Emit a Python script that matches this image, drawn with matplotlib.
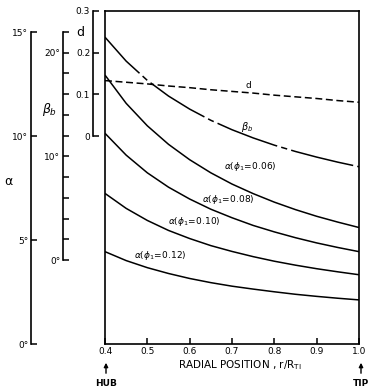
import matplotlib
matplotlib.use('Agg')
import matplotlib.pyplot as plt
from matplotlib.patches import FancyArrowPatch

plt.rcParams['lines.scale_dashes'] = False
plt.rcParams['mathtext.fontset'] = 'dejavusans'

# ---- data ----
r = [0.40, 0.45, 0.50, 0.55, 0.60, 0.65, 0.70, 0.75, 0.80, 0.85, 0.90, 0.95, 1.00]
alpha_006 = [12.93, 11.57, 10.49, 9.60, 8.86, 8.23, 7.69, 7.23, 6.82, 6.46, 6.14, 5.86, 5.60]
alpha_008 = [10.13, 9.08, 8.23, 7.54, 6.97, 6.48, 6.07, 5.70, 5.39, 5.11, 4.86, 4.64, 4.44]
alpha_010 = [7.24, 6.52, 5.94, 5.46, 5.07, 4.73, 4.45, 4.20, 3.98, 3.79, 3.62, 3.47, 3.33]
alpha_012 = [4.44, 4.01, 3.67, 3.39, 3.15, 2.95, 2.78, 2.64, 2.51, 2.39, 2.29, 2.20, 2.12]
beta_b = [21.5, 19.19, 17.33, 15.82, 14.56, 13.48, 12.57, 11.78, 11.08, 10.47, 9.93, 9.44, 9.0]
d_vals = [0.133, 0.129, 0.125, 0.120, 0.116, 0.111, 0.107, 0.103, 0.098, 0.094, 0.090, 0.085, 0.081]

x_ticks = [0.4, 0.5, 0.6, 0.7, 0.8, 0.9, 1.0]
x_ticklabels = ['0.4', '0.5', '0.6', '0.7', '0.8', '0.9', '1.0']
alpha_ticks = [0, 5, 10, 15]
alpha_ticklabels = ['0°', '5°', '10°', '15°']
beta_ticks = [0, 2, 4, 6, 8, 10, 12, 14, 16, 18, 20, 22]
beta_ticklabels = ['0°', '', '', '', '', '10°', '', '', '', '', '20°', '']
d_ticks = [0, 0.1, 0.2, 0.3]
d_ticklabels = ['0', '0.1', '0.2', '0.3']

W, H = 375, 392
fig = plt.figure(figsize=(W / 100, H / 100), dpi=100)
fig.patch.set_facecolor('white')

def fx(px):
    return px / W

def fy(py):
    return 1 - py / H

# main box (pixel layout)
L, R, T, B = 105, 359, 11, 344
main_rect = [fx(L), fy(B), (R - L) / W, (B - T) / H]

def ylim_for(v0, p0, v1, p1):
    k = (p0 - p1) / (v1 - v0)
    return (v0 - (B - p0) / k, v0 + (p0 - T) / k)

LW = 1.1
ax = fig.add_axes(main_rect)
ax.set_xlim(0.4, 1.0)
ax.set_ylim(*ylim_for(0, 344, 15, 32))
for s in ax.spines.values():
    s.set_linewidth(1.2)
ax.set_xticks(x_ticks)
ax.set_xticklabels(x_ticklabels)
ax.set_yticks([])
ax.tick_params(axis='x', direction='in', length=4, width=1.1, labelsize=6.5, pad=2)

for vals in (alpha_006, alpha_008, alpha_010, alpha_012):
    ax.plot(r, vals, color='black', lw=LW, solid_capstyle='butt')

axb = fig.add_axes(main_rect)
axb.axis('off')
axb.set_xlim(0.4, 1.0)
axb.set_ylim(*ylim_for(0, 260, 22, 32))
axb.plot(r, beta_b, color='black', lw=LW, linestyle=(10, (46, 3, 4.5, 3)))

axd = fig.add_axes(main_rect)
axd.axis('off')
axd.set_xlim(0.4, 1.0)
axd.set_ylim(*ylim_for(0, 136, 0.3, 11))
axd.plot(r, d_vals, color='black', lw=LW, linestyle=(0, (5, 2.6)))

def scale_axis(xpx, ptop, pbot, lo, hi, ticks, labels):
    a = fig.add_axes([fx(xpx), fy(pbot), 0.0001, (pbot - ptop) / H])
    a.set_ylim(lo, hi)
    for s in ['top', 'right', 'bottom']:
        a.spines[s].set_visible(False)
    a.spines['left'].set_linewidth(1.2)
    a.xaxis.set_visible(False)
    a.patch.set_visible(False)
    a.set_yticks(ticks)
    a.set_yticklabels(labels)
    a.tick_params(axis='y', direction='in', length=4, width=1.1, labelsize=6.5, pad=2)
    return a

scale_axis(31, 32, 344, 0, 15, alpha_ticks, alpha_ticklabels)
scale_axis(63, 32, 260, 0, 22, beta_ticks, beta_ticklabels)
scale_axis(93, 11, 136, 0, 0.3, d_ticks, d_ticklabels)

# axis titles
fig.text(fx(8), fy(181), 'α', fontsize=9, ha='center', va='center')
fig.text(fx(50), fy(110), r'$\beta_b$', fontsize=9, ha='center', va='center')
fig.text(fx(80), fy(33), 'd', fontsize=9, ha='center', va='center')

# curve labels
fs = 6.5
fig.text(fx(248), fy(86), 'd', fontsize=fs, ha='center', va='center')
fig.text(fx(247), fy(127), r'$\beta_b$', fontsize=fs + 0.5, ha='center', va='center')
fig.text(fx(250), fy(166), r'$\alpha(\phi_1\!=\!0.06)$', fontsize=fs, ha='center', va='center')
fig.text(fx(228), fy(200), r'$\alpha(\phi_1\!=\!0.08)$', fontsize=fs, ha='center', va='center')
fig.text(fx(194), fy(222), r'$\alpha(\phi_1\!=\!0.10)$', fontsize=fs, ha='center', va='center')
fig.text(fx(160), fy(256), r'$\alpha(\phi_1\!=\!0.12)$', fontsize=fs, ha='center', va='center')

# x-axis title
fig.text(fx(240), fy(365), r'RADIAL POSITION , r/R$_{\mathrm{TI}}$', fontsize=7.5,
         ha='center', va='center')

# HUB / TIP
for xp, lab in ((106, 'HUB'), (361, 'TIP')):
    fig.text(fx(xp), fy(383), lab, fontsize=6.5, fontweight='bold', ha='center', va='center')
    arr = FancyArrowPatch((fx(xp), fy(376)), (fx(xp), fy(360)),
                          transform=fig.transFigure, arrowstyle='-|>',
                          mutation_scale=6, lw=1.0, color='black')
    fig.add_artist(arr)

fig.savefig('out.png', dpi=100, facecolor='white')
